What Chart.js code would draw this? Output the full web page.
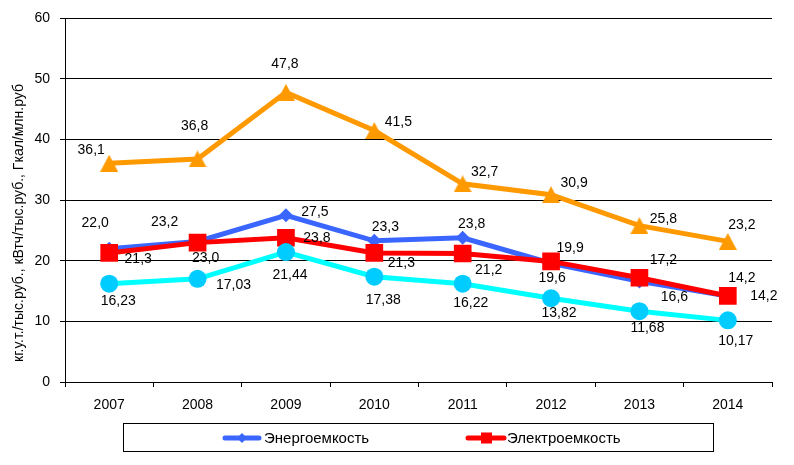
<!DOCTYPE html>
<html><head><meta charset="utf-8">
<script src="https://cdn.jsdelivr.net/npm/chart.js@4.4.1/dist/chart.umd.min.js"></script>
<style>html,body{margin:0;padding:0;background:#fff;}canvas{display:block;}</style>
</head><body>
<div style="width:794px;height:465px;position:relative;"><canvas id="c" width="794" height="465"></canvas></div>
<script>
// ---- data ----
const years = ['2007','2008','2009','2010','2011','2012','2013','2014'];
const energo = [22.0, 23.2, 27.5, 23.3, 23.8, 19.6, 16.6, 14.2];
const electro = [21.3, 23.0, 23.8, 21.3, 21.2, 19.9, 17.2, 14.2];
const heat = [36.1, 36.8, 47.8, 41.5, 32.7, 30.9, 25.8, 23.2];
const cyanSeries = [16.23, 17.03, 21.44, 17.38, 16.22, 13.82, 11.68, 10.17];
const yMin = 0, yMax = 60, yStep = 10;
const yTitle = 'кг.у.т./тыс.руб., кВтч/тыс.руб., Гкал/млн.руб';
const legendNames = ['Энергоемкость', 'Электроемкость'];

// ---- label placement (style) ----
const offEnergo = [[-14,-26],[-33,-19],[29,-3],[11,-14],[9,-14],[1,15],[35,16],[36,0]];
const offElectro = [[29,6],[8,16],[31,0],[27,10],[26,17],[19,-13],[24,-18],[14,-18]];
const offHeat = [[-18,-13],[-3,-33],[-1,-28],[24,-8],[22,-12],[23,-12],[24,-7],[14,-16]];
const offCyan = [[9,17],[36,6],[4,23],[9,23],[8,19],[8,15],[8,17],[8,21]];

const FONT = "'Liberation Sans', Arial, sans-serif";
const BLUE = '#3A66FF', RED = '#FF0000', ORANGE = '#FF9900', CYAN = '#00FFFF', CYANM = '#00CCFF';

// triangle marker image (Excel-like, bounding box centred on the point)
const tri = document.createElement('canvas');
tri.width = 18; tri.height = 17;
(function () {
  const t = tri.getContext('2d');
  t.fillStyle = ORANGE;
  t.beginPath(); t.moveTo(9, 0); t.lineTo(18, 17); t.lineTo(0, 17); t.closePath(); t.fill();
})();

const labelPlugin = {
  id: 'labels',
  afterDatasetsDraw(chart) {
    const ctx = chart.ctx;
    ctx.save();
    ctx.font = '14px ' + FONT;
    ctx.fillStyle = '#000';
    ctx.textAlign = 'center';
    ctx.textBaseline = 'middle';
    chart.data.datasets.forEach((ds, i) => {
      const meta = chart.getDatasetMeta(i);
      meta.data.forEach((pt, j) => {
        const o = ds.labelOffsets[j];
        const txt = ds.data[j].toFixed(ds.decimals).replace('.', ',');
        ctx.fillText(txt, pt.x + o[0], pt.y + o[1]);
      });
    });
    ctx.restore();
  },
  afterDraw(chart) {
    const ctx = chart.ctx;
    ctx.save();
    ctx.font = '14px ' + FONT;
    ctx.fillStyle = '#000';
    ctx.translate(19, 223);
    ctx.rotate(-Math.PI / 2);
    ctx.textAlign = 'center';
    ctx.textBaseline = 'middle';
    ctx.fillText(yTitle, 0, 0);
    ctx.restore();
    // legend
    ctx.save();
    ctx.strokeStyle = '#000';
    ctx.lineWidth = 1;
    ctx.strokeRect(123.5, 423.5, 590, 28);
    const ly = 438;
    ctx.lineWidth = 5;
    ctx.lineCap = 'round';
    ctx.strokeStyle = BLUE;
    ctx.beginPath(); ctx.moveTo(225, ly); ctx.lineTo(259, ly); ctx.stroke();
    ctx.fillStyle = BLUE;
    ctx.beginPath(); ctx.moveTo(242, ly - 5); ctx.lineTo(247, ly); ctx.lineTo(242, ly + 5); ctx.lineTo(237, ly); ctx.closePath(); ctx.fill();
    ctx.strokeStyle = RED;
    ctx.beginPath(); ctx.moveTo(468, ly); ctx.lineTo(504, ly); ctx.stroke();
    ctx.fillStyle = RED;
    ctx.fillRect(481, ly - 5.5, 11, 11);
    ctx.fillStyle = '#000';
    ctx.font = '15px ' + FONT;
    ctx.textAlign = 'left';
    ctx.textBaseline = 'middle';
    ctx.fillText(legendNames[0], 264, ly + 1);
    ctx.fillText(legendNames[1], 507, ly + 1);
    ctx.restore();
  }
};

new Chart(document.getElementById('c'), {
  type: 'line',
  data: {
    labels: years,
    datasets: [
      { label: 'Теплоемкость', data: heat, borderColor: ORANGE, backgroundColor: ORANGE,
        borderWidth: 5, pointStyle: tri, pointRadius: 9, pointBorderWidth: 0,
        pointBackgroundColor: ORANGE, order: 1, labelOffsets: offHeat, decimals: 1 },
      { label: 'cyan', data: cyanSeries, borderColor: CYAN, backgroundColor: CYANM,
        borderWidth: 5, pointStyle: 'circle', pointRadius: 9, pointBorderWidth: 0,
        pointBackgroundColor: CYANM, order: 2, labelOffsets: offCyan, decimals: 2 },
      { label: legendNames[1], data: electro, borderColor: RED, backgroundColor: RED,
        borderWidth: 5, pointStyle: 'rect', pointRadius: 12.5, pointBorderWidth: 0,
        pointBackgroundColor: RED, order: 3, labelOffsets: offElectro, decimals: 1 },
      { label: legendNames[0], data: energo, borderColor: BLUE, backgroundColor: BLUE,
        borderWidth: 5, pointStyle: 'rectRot', pointRadius: 7, pointBorderWidth: 0,
        pointBackgroundColor: BLUE, order: 4, labelOffsets: offEnergo, decimals: 1 }
    ]
  },
  options: {
    responsive: false,
    animation: false,
    layout: { padding: { left: 0, right: 22, top: 18, bottom: 0 } },
    plugins: { legend: { display: false }, tooltip: { enabled: false } },
    elements: { line: { tension: 0 } },
    scales: {
      x: {
        offset: true,
        afterFit: s => { s.height = 83; },
        grid: { display: true, drawOnChartArea: false, offset: true, color: '#000', tickLength: 5, tickColor: '#000' },
        border: { color: '#000', width: 1 },
        ticks: { color: '#000', font: { size: 14, family: FONT }, padding: 10, maxRotation: 0 }
      },
      y: {
        min: yMin, max: yMax,
        afterFit: s => { s.width = 65; },
        grid: { color: '#000', lineWidth: 1, tickLength: 5, tickColor: '#000' },
        border: { color: '#000', width: 1 },
        ticks: { stepSize: yStep, color: '#000', font: { size: 14, family: FONT }, padding: 10 }
      }
    }
  },
  plugins: [labelPlugin]
});
</script>
</body></html>
